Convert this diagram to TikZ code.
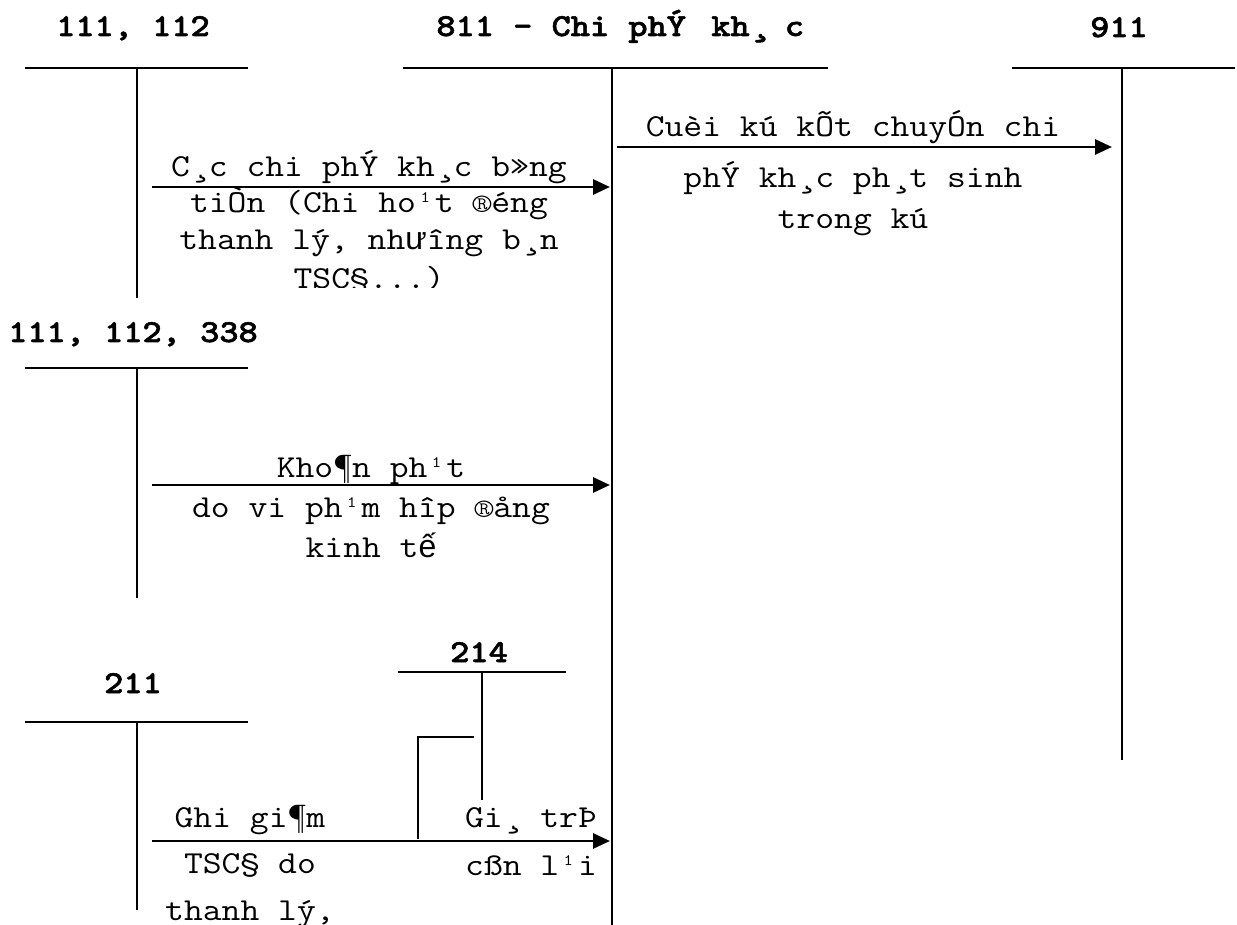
\documentclass[tikz,border=0pt]{standalone}
\usepackage{fontspec}
\setmainfont{Latin Modern Mono}[FakeStretch=1.143]
\newfontfamily\headfont{lmmonolt10-bold}[Extension=.otf, FakeStretch=1.143, FakeBold=1.6]
\newfontfamily\arialfont{Liberation Sans}
\usetikzlibrary{arrows.meta}

\tikzset{
  acct/.style={line width=1pt},
  post/.style={line width=1.4pt, -{Triangle[length=8.5pt,width=7.5pt]}},
  head/.style={font=\fontsize{16}{19}\selectfont\headfont, anchor=base, inner sep=0pt},
  lbl/.style={font=\fontsize{16}{18}\selectfont, anchor=base, inner sep=0pt}
}

\begin{document}
\begin{tikzpicture}[x=0.5pt, y=-0.5pt]
        \useasboundingbox (0,0) rectangle (1237,925);

        % Account headings
        \node[head] (h111) at (133,36) {111, 112};
        \node[head, anchor=base west] (h811) at (436,36) {811 - Chi phÝ\hspace{3pt} kh¸\hspace{8pt}c};
        \node[head] (h911) at (1119,37) {911};
        \node[head] (h338) at (133,342) {111, 112, 338};
        \node[head] (h211) at (133,693) {211};
        \node[head] (h214) at (479,662) {214};

        % T-accounts
        \draw[acct] (25,68) -- (248,68);
        \draw[acct] (137,68) -- (137,298);
        \draw[acct] (403,68) -- (828,68);
        \draw[acct] (612,68) -- (612,925);
        \draw[acct] (1012,68) -- (1235,68);
        \draw[acct] (1122,68) -- (1122,760);
        \draw[acct] (25,368) -- (248,368);
        \draw[acct] (137,368) -- (137,598);
        \draw[acct] (25,722) -- (248,722);
        \draw[acct] (137,722) -- (137,910);
        \draw[acct] (398,672) -- (566,672);
        \draw[acct] (482,672) -- (482,800);

        % Ends of the postings
        \coordinate (s1) at (152,187);
        \coordinate (e1) at (610,187);
        \coordinate (s2) at (617,147);
        \coordinate (e2) at (1112,147);
        \coordinate (s3) at (152,485);
        \coordinate (e3) at (610,485);
        \coordinate (s4) at (152,841);
        \coordinate (e4) at (610,841);
        \coordinate (k1) at (418,839);
        \coordinate (k2) at (418,737);
        \coordinate (k3) at (474,737);

        % Postings
        \draw[post] (s1) -- (e1);
        \draw[post] (s2) -- (e2);
        \draw[post] (s3) -- (e3);
        \draw[post] (s4) -- (e4);
        \draw[acct] (k1) -- (k2) -- (k3);

        % 111, 112 -> 811
        \node[lbl] (t1a) at (369,177) {C¸c chi phÝ kh¸c b»ng};
        \node[lbl] (t1b) at (369,213) {tiÒn (Chi ho¹t ®éng};
        \node[lbl] (t1c) at (369,250) {thanh lý, nh{\arialfont ư}îng b¸n};
        \begin{scope}
            \clip (140,250) rectangle (610,288);
            \node[lbl] (t1d) at (369,289) {TSC§...)};
        \end{scope}

        % 811 -> 911
        \node[lbl] (t2a) at (853,137) {Cuèi kú kÕt chuyÓn chi};
        \node[lbl] (t2b) at (853,188) {phÝ kh¸c ph¸t sinh};
        \node[lbl] (t2c) at (853,229) {trong kú};

        % 111, 112, 338 -> 811
        \node[lbl] (t3a) at (371,477) {Kho¶n ph¹t};
        \node[lbl] (t3b) at (371,517) {do vi ph¹m hîp ®ång};
        \node[lbl] (t3c) at (371,557) {kinh t{\arialfont ế}};

        % 211 -> 811
        \node[lbl] (t4a) at (250,827) {Ghi gi¶m};
        \node[lbl] (t4b) at (250,873) {TSC§ do};
        \node[lbl] (t4c) at (250,920) {thanh lý,};
        \node[lbl] (t4d) at (531,827) {Gi¸ trÞ};
        \node[lbl] (t4e) at (531,875) {cßn l¹i};
\end{tikzpicture}
\end{document}
